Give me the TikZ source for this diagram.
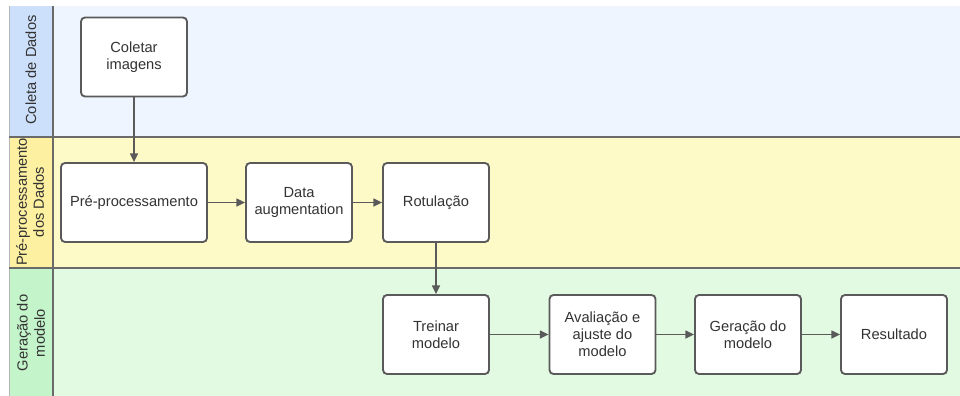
\documentclass[tikz,border=0pt]{standalone}
\usepackage{fontspec}
\setmainfont{Liberation Sans}
\usetikzlibrary{arrows.meta}

\definecolor{bluehead}{HTML}{CDE0FB}
\definecolor{bluebody}{HTML}{EEF5FF}
\definecolor{yellowhead}{HTML}{FDF0A0}
\definecolor{yellowbody}{HTML}{FEFAC8}
\definecolor{greenhead}{HTML}{C4F4C9}
\definecolor{greenbody}{HTML}{E2FAE2}
\definecolor{laneline}{HTML}{6A6A6A}
\definecolor{boxline}{HTML}{5A5A5A}
\definecolor{txt}{HTML}{333333}

\tikzset{
  stepbox/.style={draw=boxline, line width=1.4pt, fill=white, rounded corners=3pt,
    minimum width=79.5pt, minimum height=59.25pt, align=center, inner sep=2pt,
    text=txt, font=\fontsize{11}{12.8}\selectfont},
  widebox/.style={stepbox, minimum width=109.5pt},
  lanelabel/.style={rotate=90, align=center, text=txt, inner sep=0pt,
    font=\fontsize{11}{12.8}\selectfont},
  flow/.style={draw=boxline, line width=0.9pt,
    -{Triangle[length=6.5pt,width=6pt]}},
  sep/.style={draw=laneline, line width=1.5pt}
}

\begin{document}
\begin{tikzpicture}[x=0.75pt,y=-0.75pt]
\useasboundingbox (0,0) rectangle (960,396);

% lane backgrounds
\fill[bluebody]   (53,6)   rectangle (960,137);
\fill[yellowbody] (53,137) rectangle (960,268);
\fill[greenbody]  (53,268) rectangle (960,396);
% lane headers
\fill[bluehead]   (9,6)   rectangle (53,137);
\fill[yellowhead] (9,137) rectangle (53,268);
\fill[greenhead]  (9,268) rectangle (53,396);
\draw[draw=laneline!50, line width=0.6pt] (9,6) -- (9,396);

% lane separators
\draw[sep] (9,137) -- (960,137);
\draw[sep] (9,268) -- (960,268);
\draw[sep] (53,6) -- (53,396);

% lane titles
\node[lanelabel] (l1) at (31,70) {Coleta de Dados};
\node[lanelabel] (l2) at (30,202) {Pré-processamento\\dos Dados};
\node[lanelabel] (l3) at (31,333) {Geração do\\modelo};

% steps
\node[stepbox] (coletar) at (134,57)    {Coletar\\imagens};
\node[widebox] (prep)    at (134,202.5) {Pré-processamento};
\node[stepbox] (aug)     at (299,202.5) {Data\\augmentation};
\node[stepbox] (rot)     at (436,202.5) {Rotulação};
\node[stepbox] (treinar) at (436,334.5) {Treinar\\modelo};
\node[stepbox] (aval)    at (602.5,334.5) {Avaliação e\\ajuste do\\modelo};
\node[stepbox] (gerac)   at (748,334.5) {Geração do\\modelo};
\node[stepbox] (result)  at (894,334.5) {Resultado};

% connectors
\draw[flow] (coletar) -- (prep);
\draw[flow] (prep) -- (aug);
\draw[flow] (aug) -- (rot);
\draw[flow] (rot) -- (treinar);
\draw[flow] (treinar) -- (aval);
\draw[flow] (aval) -- (gerac);
\draw[flow] (gerac) -- (result);
\end{tikzpicture}
\end{document}
